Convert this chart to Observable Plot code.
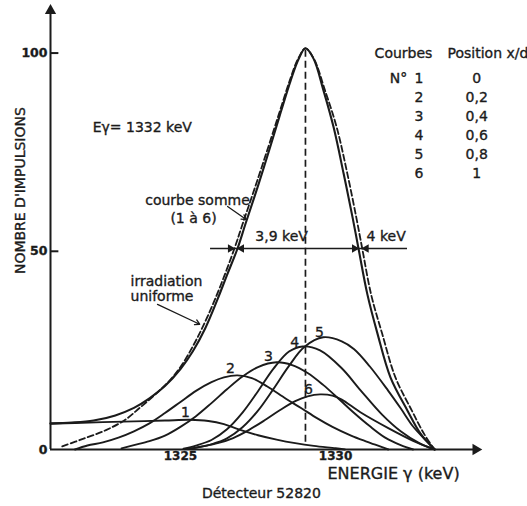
<!DOCTYPE html>
<html>
<head>
<meta charset="utf-8">
<script src="https://cdn.jsdelivr.net/npm/d3@7"></script>
<script src="https://cdn.jsdelivr.net/npm/@observablehq/plot@0.6"></script>
<style>
  html, body { margin: 0; padding: 0; background: #fff; }
  #chart svg { display: block; }
  /* slightly heavier lettering */
  #chart svg text { stroke: #1b1b1b; stroke-width: 0.35px; }
</style>
</head>
<body>
<div id="chart"></div>
<script>
// Partial spectra: [energy (keV), pulse count] for each irradiation position
const curve1 = [[1320.81, 6.5], [1321.6, 6.7], [1322.5, 6.9], [1323.5, 7.1], [1324.5, 7.3], [1325.3, 7.5], [1325.9, 7.2], [1326.4, 6.4], [1326.9, 5.0], [1327.5, 3.6], [1328.1, 2.5], [1328.7, 1.6], [1329.3, 0.9], [1330.0, 0.3], [1330.3, 0]];
const curve2 = [[1321.6, 0], [1322.0, 1.0], [1322.5, 1.8], [1323.0, 3.0], [1323.5, 4.6], [1324.0, 6.6], [1324.5, 9.2], [1325.0, 12.0], [1325.5, 14.8], [1326.0, 17.0], [1326.4, 18.2], [1326.84, 18.7], [1327.3, 18.0], [1327.8, 15.9], [1328.4, 12.8], [1328.9, 10.4], [1329.4, 7.9], [1329.9, 5.7], [1330.5, 3.5], [1331.0, 2.0], [1331.5, 0.6], [1331.7, 0]];
const curve3 = [[1323.1, 0.3], [1323.5, 1.1], [1324.0, 2.1], [1324.5, 3.5], [1325.0, 5.7], [1325.5, 8.4], [1326.0, 11.7], [1326.5, 15.2], [1327.0, 18.4], [1327.5, 20.8], [1328.1, 22.0], [1328.6, 21.3], [1329.1, 19.3], [1329.6, 16.3], [1330.1, 12.8], [1330.6, 9.2], [1331.1, 5.9], [1331.6, 3.0], [1332.1, 1.1], [1332.5, 0]];
const curve4 = [[1325.1, 0.2], [1325.5, 1.0], [1326.0, 2.4], [1326.5, 5.1], [1327.0, 9.3], [1327.5, 14.7], [1328.0, 20.4], [1328.5, 24.7], [1328.94, 26.0], [1329.5, 25.0], [1330.2, 20.5], [1330.8, 15.0], [1331.5, 8.8], [1332.1, 4.6], [1332.7, 1.6], [1333.2, 0]];
const curve5 = [[1325.2, 0.1], [1325.6, 0.6], [1326.0, 1.3], [1326.5, 2.8], [1327.0, 5.6], [1327.5, 9.8], [1328.0, 15.3], [1328.5, 21.1], [1329.0, 25.9], [1329.6, 28.3], [1330.2, 27.3], [1330.6, 25.3], [1331.1, 21.0], [1331.7, 14.8], [1332.1, 10.4], [1332.5, 5.8], [1332.95, 2.0], [1333.2, 0]];
const curve6 = [[1325.2, 0.1], [1325.7, 0.8], [1326.2, 1.6], [1326.7, 2.9], [1327.2, 4.9], [1327.7, 7.3], [1328.2, 9.9], [1328.7, 12.2], [1329.1, 13.4], [1329.5, 13.9], [1329.9, 13.6], [1330.2, 12.6], [1330.8, 9.4], [1331.7, 5.4], [1332.5, 2.2], [1333.2, 0]];

// Sum of curves 1 to 6 (solid) and uniform irradiation spectrum (dashed)
const sumCurve = [[1320.81, 6.6], [1321.5, 6.8], [1322.2, 7.3], [1322.9, 8.6], [1323.5, 10.5], [1324.0, 12.9], [1324.5, 16.0], [1325.0, 20.3], [1325.4, 24.8], [1325.8, 30.6], [1326.2, 38.0], [1326.5, 44.0], [1326.84, 50.7], [1327.1, 57.0], [1327.5, 66.5], [1327.9, 76.5], [1328.23, 85.0], [1328.55, 93.0], [1328.81, 98.5], [1329.03, 101.2], [1329.29, 98.6], [1329.61, 90.6], [1329.94, 81.2], [1330.26, 69.6], [1330.55, 58.5], [1330.74, 50.7], [1331.03, 39.0], [1331.35, 29.3], [1331.77, 18.2], [1332.32, 9.8], [1332.74, 4.0], [1333.16, 0.3]];
const uniformCurve = [[1321.19, 0.8], [1321.9, 2.8], [1322.6, 4.9], [1323.2, 7.4], [1323.7, 10.6], [1324.2, 14.0], [1324.7, 17.8], [1325.1, 22.0], [1325.5, 27.5], [1325.9, 34.0], [1326.3, 41.5], [1326.74, 50.7], [1327.0, 56.8], [1327.42, 66.5], [1327.84, 76.5], [1328.19, 85.0], [1328.52, 93.0], [1328.79, 98.5], [1329.03, 101.2], [1329.3, 98.6], [1329.66, 90.6], [1330.04, 81.2], [1330.38, 69.6], [1330.67, 58.5], [1330.86, 50.7], [1331.15, 39.0], [1331.5, 29.3], [1331.93, 18.2], [1332.46, 9.8], [1332.85, 4.0], [1333.16, 0.3]];

const curveNames = ["1", "2", "3", "4", "5", "6"];
const positionsXd = ["0", "0,2", "0,4", "0,6", "0,8", "1"];
// where each curve number is written
const curveLabelAt = [[1325.16, 9.3], [1326.61, 20.4], [1327.84, 23.5], [1328.68, 27.0], [1329.48, 29.5], [1329.13, 15.1]];

const xTicks = [1325, 1330];
const yTicks = [0, 50, 100];
const halfMax = 50.7;
const fwhmSum = [1326.84, 1330.74];      // 3,9 keV
const fwhmUniform = [1326.74, 1330.86];  // 4 keV
const peak = [1329.03, 101.2];

const ink = "#1b1b1b";
const font = "DejaVu Sans, sans-serif";
const xMin = 1320.81, xMax = 1334.77, yMax = 112;

const partials = [curve1, curve2, curve3, curve4, curve5, curve6]
  .flatMap((pts, i) => pts.map(([e, n]) => ({curve: curveNames[i], energy: e, count: n})));
const toRows = pts => pts.map(([e, n]) => ({energy: e, count: n}));

const rowY = i => 93.6 - i * 4.8;

const chart = Plot.plot({
  width: 527,
  height: 506,
  marginLeft: 50,
  marginRight: 44,
  marginTop: 5,
  marginBottom: 57,
  x: {domain: [xMin, xMax]},
  y: {domain: [0, yMax]},
  style: {fontFamily: font, background: "#fff", color: ink},
  marks: [
    // axes with arrowheads
    Plot.ruleX([xMin], {y1: 0, y2: yMax - 2, stroke: ink, strokeWidth: 2}),
    Plot.ruleY([0], {x1: xMin, x2: xMax - 0.3, stroke: ink, strokeWidth: 2}),
    Plot.dot([[xMin, yMax - 1.3]], {x: d => d[0], y: d => d[1], symbol: "triangle", r: 4.2, fill: ink, stroke: "none"}),
    Plot.dot([[xMax - 0.25, 0]], {x: d => d[0], y: d => d[1], symbol: "triangle", r: 4.2, rotate: 90, fill: ink, stroke: "none"}),
    Plot.ruleY(yTicks.filter(d => d > 0), {x1: xMin, x2: xMin + 0.27, stroke: ink, strokeWidth: 2}),
    Plot.axisY(yTicks, {tickSize: 0, tickPadding: 3, fontSize: 12.5, fontWeight: "bold", label: null, tickFormat: d => String(d)}),
    Plot.axisX(xTicks, {tickSize: 0, tickPadding: 2, fontSize: 12, fontWeight: "bold", label: null, tickFormat: d => String(d)}),

    // partial spectra 1..6
    Plot.line(partials, {x: "energy", y: "count", z: "curve", curve: "catmull-rom", stroke: ink, strokeWidth: 1.9}),
    // sum curve and uniform irradiation
    Plot.line(toRows(sumCurve), {x: "energy", y: "count", curve: "catmull-rom", stroke: ink, strokeWidth: 2.1}),
    Plot.line(toRows(uniformCurve), {x: "energy", y: "count", curve: "catmull-rom", stroke: ink, strokeWidth: 1.8, strokeDasharray: "6,3"}),

    // peak marker and half-maximum line
    Plot.ruleX([peak[0]], {y1: 1.8, y2: peak[1], stroke: ink, strokeWidth: 1.7, strokeDasharray: "7,4"}),
    Plot.ruleY([halfMax], {x1: 1325.97, x2: 1332.32, stroke: ink, strokeWidth: 1.7}),
    Plot.dot([fwhmSum[0]], {x: d => d, y: halfMax, symbol: "triangle", r: 3.2, rotate: -90, dx: 4, fill: ink, stroke: "none"}),
    Plot.dot([fwhmSum[1]], {x: d => d, y: halfMax, symbol: "triangle", r: 3.2, rotate: 90, dx: -4, fill: ink, stroke: "none"}),
    Plot.dot([fwhmUniform[0]], {x: d => d, y: halfMax, symbol: "triangle", r: 3.2, rotate: 90, dx: -4, fill: ink, stroke: "none"}),
    Plot.dot([fwhmUniform[1]], {x: d => d, y: halfMax, symbol: "triangle", r: 3.2, rotate: -90, dx: 4, fill: ink, stroke: "none"}),
    Plot.text(["3,9 keV"], {x: 1328.26, y: halfMax, dy: -12, fontSize: 14, fill: ink}),
    Plot.text(["4 keV"], {x: 1331.0, y: halfMax, dy: -12, textAnchor: "start", fontSize: 14, fill: ink}),

    // curve numbers
    Plot.text(curveLabelAt, {x: d => d[0], y: d => d[1], text: (d, i) => curveNames[i], fontSize: 14, fill: ink}),

    // annotations
    Plot.text(["Eγ= 1332 keV"], {x: 1323.77, y: 81.2, fontSize: 14, fill: ink}),
    Plot.text(["courbe somme"], {x: 1325.55, y: 62.8, fontSize: 14, fill: ink}),
    Plot.text(["(1 à 6)"], {x: 1325.42, y: 58.3, fontSize: 14, fill: ink}),
    Plot.arrow([0], {x1: 1326.52, y1: 61.3, x2: 1327.12, y2: 58.0, stroke: ink, strokeWidth: 1.3, headLength: 6}),
    Plot.text(["irradiation"], {x: 1323.39, y: 42.3, textAnchor: "start", fontSize: 14, fill: ink}),
    Plot.text(["uniforme"], {x: 1323.39, y: 38.6, textAnchor: "start", fontSize: 14, fill: ink}),
    Plot.arrow([0], {x1: 1324.26, y1: 36.6, x2: 1325.62, y2: 31.6, stroke: ink, strokeWidth: 1.3, headLength: 6}),

    // table of curve numbers and positions x/d
    Plot.text(["Courbes"], {x: 1332.19, y: 99.9, fontSize: 14, fill: ink}),
    Plot.text(["Position x/d"], {x: 1333.61, y: 99.9, textAnchor: "start", fontSize: 14, fill: ink}),
    Plot.text(["N°"], {x: 1332.03, y: rowY(0), fontSize: 14, fill: ink}),
    Plot.text(curveNames, {x: 1332.69, y: (d, i) => rowY(i), fontSize: 14, fill: ink}),
    Plot.text(positionsXd, {x: 1334.55, y: (d, i) => rowY(i), fontSize: 14, fill: ink}),

    // axis titles and caption
    Plot.text(["NOMBRE D'IMPULSIONS"], {x: xMin, y: 65.3, dx: -30, rotate: -90, fontSize: 14, fill: ink}),
    Plot.text(["ENERGIE γ (keV)"], {x: 1329.74, y: -6.05, textAnchor: "start", fontSize: 16, fill: ink}),
    Plot.text(["Détecteur 52820"], {x: 1327.61, y: -11.1, fontSize: 14, fill: ink})
  ]
});

document.getElementById("chart").append(chart);
</script>
</body>
</html>
